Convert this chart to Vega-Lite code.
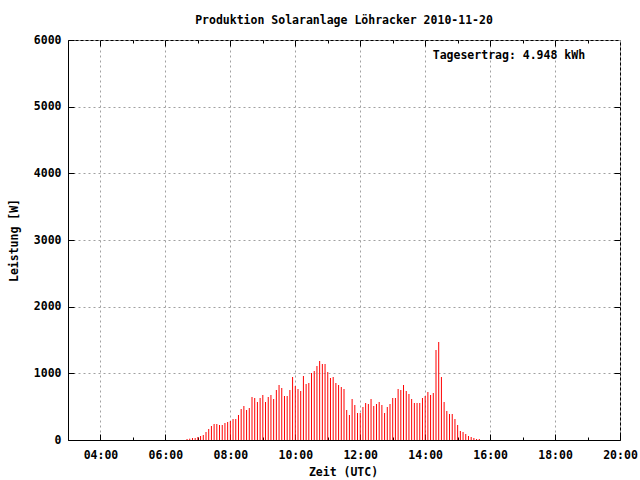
{
  "$schema": "https://vega.github.io/schema/vega-lite/v6.json",
  "width": 552,
  "height": 400,
  "autosize": {"type": "none"},
  "padding": {"left": 68, "top": 40, "right": 20, "bottom": 40},
  "background": "white",
  "title": {"text": "Produktion Solaranlage Löhracker 2010-11-20", "font": "DejaVu Sans Mono", "fontSize": 11.5, "fontWeight": "bold", "color": "black", "anchor": "middle", "baseline": "alphabetic", "offset": -1},
  "config": {
    "view": {"stroke": "black", "strokeWidth": 1},
    "axis": {
      "labelFont": "DejaVu Sans Mono", "labelFontSize": 11.5, "labelFontWeight": "bold", "labelColor": "black",
      "titleFont": "DejaVu Sans Mono", "titleFontSize": 11.5, "titleFontWeight": "bold", "titleColor": "black",
      "tickColor": "black", "domainColor": "black", "gridColor": "#a0a0a0", "gridDash": [2, 3], "gridOpacity": 1, "gridWidth": 1
    }
  },
  "data": {
    "format": {"parse": {"t": "utc:'%H:%M'"}},
    "values": [
      {"t": "06:40", "w": 15}, {"t": "06:45", "w": 20}, {"t": "06:50", "w": 30}, {"t": "06:55", "w": 30},
      {"t": "07:00", "w": 45}, {"t": "07:05", "w": 60}, {"t": "07:10", "w": 75}, {"t": "07:15", "w": 120},
      {"t": "07:20", "w": 165}, {"t": "07:25", "w": 210}, {"t": "07:30", "w": 240}, {"t": "07:35", "w": 240},
      {"t": "07:40", "w": 225}, {"t": "07:45", "w": 225}, {"t": "07:50", "w": 255}, {"t": "07:55", "w": 270},
      {"t": "08:00", "w": 285}, {"t": "08:05", "w": 315}, {"t": "08:10", "w": 315}, {"t": "08:15", "w": 375},
      {"t": "08:20", "w": 465}, {"t": "08:25", "w": 510}, {"t": "08:30", "w": 450}, {"t": "08:35", "w": 480},
      {"t": "08:40", "w": 645}, {"t": "08:45", "w": 630}, {"t": "08:50", "w": 570}, {"t": "08:55", "w": 630},
      {"t": "09:00", "w": 675}, {"t": "09:05", "w": 570}, {"t": "09:10", "w": 645}, {"t": "09:15", "w": 675},
      {"t": "09:20", "w": 615}, {"t": "09:25", "w": 750}, {"t": "09:30", "w": 825}, {"t": "09:35", "w": 780},
      {"t": "09:40", "w": 660}, {"t": "09:45", "w": 660}, {"t": "09:50", "w": 750}, {"t": "09:55", "w": 945},
      {"t": "10:00", "w": 810}, {"t": "10:05", "w": 765}, {"t": "10:10", "w": 735}, {"t": "10:15", "w": 960},
      {"t": "10:20", "w": 840}, {"t": "10:25", "w": 855}, {"t": "10:30", "w": 1005}, {"t": "10:35", "w": 1035},
      {"t": "10:40", "w": 1110}, {"t": "10:45", "w": 1185}, {"t": "10:50", "w": 1140}, {"t": "10:55", "w": 1140},
      {"t": "11:00", "w": 1020}, {"t": "11:05", "w": 930}, {"t": "11:10", "w": 945}, {"t": "11:15", "w": 855},
      {"t": "11:20", "w": 825}, {"t": "11:25", "w": 795}, {"t": "11:30", "w": 765}, {"t": "11:35", "w": 450},
      {"t": "11:40", "w": 375}, {"t": "11:45", "w": 615}, {"t": "11:50", "w": 525}, {"t": "11:55", "w": 405},
      {"t": "12:00", "w": 405}, {"t": "12:05", "w": 495}, {"t": "12:10", "w": 555}, {"t": "12:15", "w": 540},
      {"t": "12:20", "w": 615}, {"t": "12:25", "w": 510}, {"t": "12:30", "w": 540}, {"t": "12:35", "w": 570},
      {"t": "12:40", "w": 525}, {"t": "12:45", "w": 405}, {"t": "12:50", "w": 495}, {"t": "12:55", "w": 540},
      {"t": "13:00", "w": 630}, {"t": "13:05", "w": 630}, {"t": "13:10", "w": 765}, {"t": "13:15", "w": 750},
      {"t": "13:20", "w": 825}, {"t": "13:25", "w": 735}, {"t": "13:30", "w": 690}, {"t": "13:35", "w": 615},
      {"t": "13:40", "w": 555}, {"t": "13:45", "w": 555}, {"t": "13:50", "w": 555}, {"t": "13:55", "w": 630},
      {"t": "14:00", "w": 660}, {"t": "14:05", "w": 720}, {"t": "14:10", "w": 675}, {"t": "14:15", "w": 705},
      {"t": "14:20", "w": 1350}, {"t": "14:25", "w": 1470}, {"t": "14:30", "w": 945}, {"t": "14:35", "w": 570},
      {"t": "14:40", "w": 435}, {"t": "14:45", "w": 390}, {"t": "14:50", "w": 390}, {"t": "14:55", "w": 315},
      {"t": "15:00", "w": 225}, {"t": "15:05", "w": 135}, {"t": "15:10", "w": 120}, {"t": "15:15", "w": 90},
      {"t": "15:20", "w": 60}, {"t": "15:25", "w": 45}, {"t": "15:30", "w": 30}, {"t": "15:35", "w": 15},
      {"t": "15:40", "w": 15}
    ]
  },
  "resolve": {"axis": {"x": "independent", "y": "independent"}},
  "layer": [
    {
      "mark": {"type": "rule", "color": "#ff0000", "strokeWidth": 1},
      "encoding": {
        "x": {
          "field": "t", "type": "temporal",
          "scale": {"type": "utc", "domain": [{"year": 1900, "month": 1, "date": 1, "hours": 3, "utc": true}, {"year": 1900, "month": 1, "date": 1, "hours": 20, "utc": true}]},
          "axis": {
            "orient": "bottom", "labelExpr": "utcFormat(datum.value, '%H:%M')",
            "values": [
              {"year": 1900, "month": 1, "date": 1, "hours": 4, "utc": true},
              {"year": 1900, "month": 1, "date": 1, "hours": 6, "utc": true},
              {"year": 1900, "month": 1, "date": 1, "hours": 8, "utc": true},
              {"year": 1900, "month": 1, "date": 1, "hours": 10, "utc": true},
              {"year": 1900, "month": 1, "date": 1, "hours": 12, "utc": true},
              {"year": 1900, "month": 1, "date": 1, "hours": 14, "utc": true},
              {"year": 1900, "month": 1, "date": 1, "hours": 16, "utc": true},
              {"year": 1900, "month": 1, "date": 1, "hours": 18, "utc": true},
              {"year": 1900, "month": 1, "date": 1, "hours": 20, "utc": true}
            ],
            "grid": true, "tickSize": -6, "labelPadding": 21, "labelBaseline": "middle",
            "labelFlush": false, "labelOverlap": false, "labelBound": false,
            "title": "Zeit (UTC)", "titleX": 275, "titleY": 32, "titleBaseline": "middle", "titleAnchor": null, "titleAlign": "center"
          }
        },
        "y": {
          "field": "w", "type": "quantitative",
          "scale": {"domain": [0, 6000], "nice": false, "zero": true},
          "axis": {
            "orient": "left", "values": [0, 1000, 2000, 3000, 4000, 5000, 6000], "format": "d",
            "grid": true, "tickSize": -6, "labelPadding": 13, "labelBaseline": "middle", "labelFlush": false, "labelOverlap": false,
            "title": "Leistung [W]", "titleX": -54, "titleY": 200, "titleAngle": 270, "titleBaseline": "middle", "titleAlign": "center", "titleAnchor": null
          }
        },
        "y2": {"datum": 0}
      }
    },
    {
      "data": {"values": [{}]},
      "mark": {"type": "text", "align": "left", "baseline": "middle", "font": "DejaVu Sans Mono", "fontSize": 11.5, "fontWeight": "bold", "color": "black"},
      "encoding": {
        "x": {
          "datum": {"year": 1900, "month": 1, "date": 1, "hours": 14, "minutes": 14, "utc": true}, "type": "temporal",
          "axis": {
            "orient": "top", "labels": false, "grid": false, "domain": false, "tickSize": -6, "title": null,
            "values": [
              {"year": 1900, "month": 1, "date": 1, "hours": 4, "utc": true},
              {"year": 1900, "month": 1, "date": 1, "hours": 6, "utc": true},
              {"year": 1900, "month": 1, "date": 1, "hours": 8, "utc": true},
              {"year": 1900, "month": 1, "date": 1, "hours": 10, "utc": true},
              {"year": 1900, "month": 1, "date": 1, "hours": 12, "utc": true},
              {"year": 1900, "month": 1, "date": 1, "hours": 14, "utc": true},
              {"year": 1900, "month": 1, "date": 1, "hours": 16, "utc": true},
              {"year": 1900, "month": 1, "date": 1, "hours": 18, "utc": true}
            ]
          }
        },
        "y": {
          "datum": 5760, "type": "quantitative",
          "axis": {"orient": "right", "labels": false, "grid": false, "domain": false, "tickSize": -6, "title": null, "values": [1000, 2000, 3000, 4000, 5000]}
        },
        "text": {"value": "Tagesertrag: 4.948 kWh"}
      }
    },
    {
      "data": {"values": [{}]},
      "mark": {"type": "text", "opacity": 0},
      "encoding": {
        "x": {
          "datum": {"year": 1900, "month": 1, "date": 1, "hours": 12, "utc": true}, "type": "temporal",
          "axis": {
            "orient": "bottom", "labels": false, "grid": false, "domain": false, "tickSize": -3, "title": null,
            "values": [
              {"year": 1900, "month": 1, "date": 1, "hours": 5, "utc": true},
              {"year": 1900, "month": 1, "date": 1, "hours": 7, "utc": true},
              {"year": 1900, "month": 1, "date": 1, "hours": 9, "utc": true},
              {"year": 1900, "month": 1, "date": 1, "hours": 11, "utc": true},
              {"year": 1900, "month": 1, "date": 1, "hours": 13, "utc": true},
              {"year": 1900, "month": 1, "date": 1, "hours": 15, "utc": true},
              {"year": 1900, "month": 1, "date": 1, "hours": 17, "utc": true},
              {"year": 1900, "month": 1, "date": 1, "hours": 19, "utc": true}
            ]
          }
        },
        "y": {"datum": 0, "type": "quantitative", "axis": null},
        "text": {"value": ""}
      }
    },
    {
      "data": {"values": [{}]},
      "mark": {"type": "text", "opacity": 0},
      "encoding": {
        "x": {
          "datum": {"year": 1900, "month": 1, "date": 1, "hours": 12, "utc": true}, "type": "temporal",
          "axis": {
            "orient": "top", "labels": false, "grid": false, "domain": false, "tickSize": -3, "title": null,
            "values": [
              {"year": 1900, "month": 1, "date": 1, "hours": 5, "utc": true},
              {"year": 1900, "month": 1, "date": 1, "hours": 7, "utc": true},
              {"year": 1900, "month": 1, "date": 1, "hours": 9, "utc": true},
              {"year": 1900, "month": 1, "date": 1, "hours": 11, "utc": true},
              {"year": 1900, "month": 1, "date": 1, "hours": 13, "utc": true},
              {"year": 1900, "month": 1, "date": 1, "hours": 15, "utc": true},
              {"year": 1900, "month": 1, "date": 1, "hours": 17, "utc": true},
              {"year": 1900, "month": 1, "date": 1, "hours": 19, "utc": true}
            ]
          }
        },
        "y": {"datum": 0, "type": "quantitative", "axis": null},
        "text": {"value": ""}
      }
    }
  ]
}
